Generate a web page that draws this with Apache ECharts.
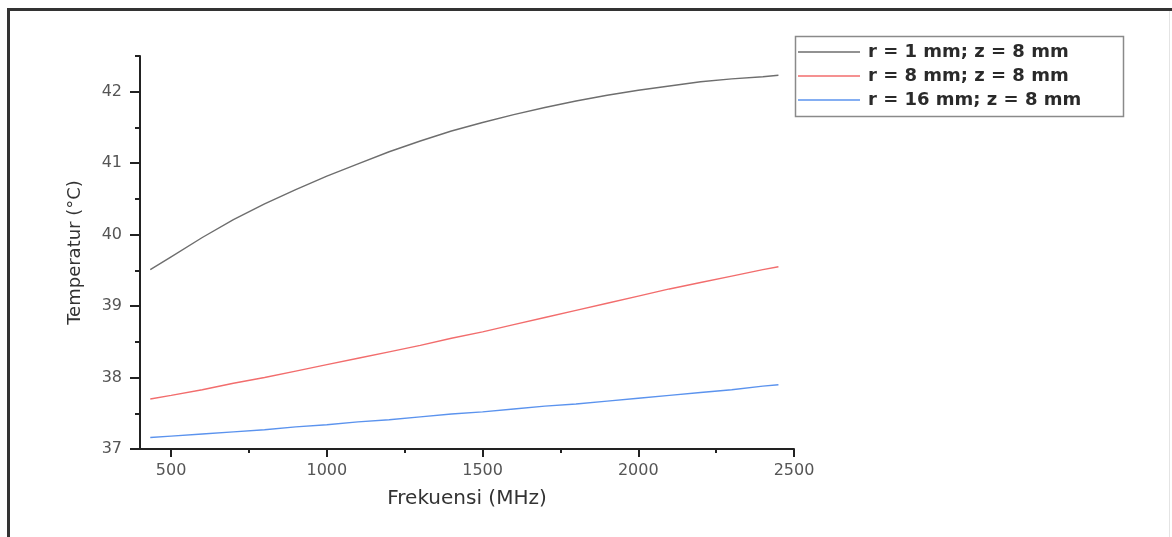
<!DOCTYPE html>
<html>
<head>
<meta charset="utf-8">
<script src="https://cdn.jsdelivr.net/npm/echarts@6/dist/echarts.min.js"></script>
<style>
html,body{margin:0;padding:0;background:#fff;}
#c{width:1172px;height:537px;}
</style>
</head>
<body>
<div id="c"></div>
<script>
var freq = [433, 500, 600, 700, 800, 900, 1000, 1100, 1200, 1300, 1400, 1500, 1600, 1700, 1800, 1900, 2000, 2100, 2200, 2300, 2400, 2450];
var r1 = [39.51, 39.69, 39.96, 40.21, 40.43, 40.63, 40.82, 40.99, 41.16, 41.31, 41.45, 41.57, 41.68, 41.78, 41.87, 41.95, 42.02, 42.08, 42.14, 42.18, 42.21, 42.23];
var r8 = [37.70, 37.75, 37.83, 37.92, 38.00, 38.09, 38.18, 38.27, 38.36, 38.45, 38.55, 38.64, 38.74, 38.84, 38.94, 39.04, 39.14, 39.24, 39.33, 39.42, 39.51, 39.55];
var r16 = [37.16, 37.18, 37.21, 37.24, 37.27, 37.31, 37.34, 37.38, 37.41, 37.45, 37.49, 37.52, 37.56, 37.60, 37.63, 37.67, 37.71, 37.75, 37.79, 37.83, 37.88, 37.90];
var seriesNames = ['r = 1 mm; z = 8 mm', 'r = 8 mm; z = 8 mm', 'r = 16 mm; z = 8 mm'];
var xTicks = [500, 1000, 1500, 2000, 2500];
var xMinorTicks = [750, 1250, 1750, 2250];
var yTicks = [37, 38, 39, 40, 41, 42];
var yMinorTicks = [37.5, 38.5, 39.5, 40.5, 41.5, 42.5];

function pairs(ys){ return freq.map(function(f,i){ return [f, ys[i]]; }); }
function plain(v){ return String(v); }

var FONT = 'DejaVu Sans';
var chart = echarts.init(document.getElementById('c'), null, {renderer:'canvas'});
chart.setOption({
  backgroundColor: '#ffffff',
  animation: false,
  grid: {left: 140, right: 378, top: 56, bottom: 88, containLabel: false},
  xAxis: [{
    type: 'value', min: 400, max: 2500,
    name: 'Frekuensi (MHz)', nameLocation: 'middle', nameGap: 40,
    nameTextStyle: {fontFamily: FONT, fontSize: 20, color: '#333'},
    axisLine: {show: true, lineStyle: {color: '#222', width: 2}},
    axisTick: {show: true, inside: false, length: 8, customValues: xTicks, lineStyle: {color: '#222', width: 2}},
    axisLabel: {customValues: xTicks, formatter: plain, margin: 14, fontFamily: FONT, fontSize: 16, color: '#555'},
    splitLine: {show: false}
  }, {
    type: 'value', min: 400, max: 2500, position: 'bottom',
    axisLine: {show: false},
    axisTick: {show: true, length: 4, customValues: xMinorTicks, lineStyle: {color: '#222', width: 2}},
    axisLabel: {show: false},
    splitLine: {show: false}
  }],
  yAxis: [{
    type: 'value', min: 37, max: 42.5,
    name: 'Temperatur (°C)', nameLocation: 'middle', nameGap: 56, nameRotate: 90,
    nameTextStyle: {fontFamily: FONT, fontSize: 18, color: '#333'},
    axisLine: {show: true, lineStyle: {color: '#222', width: 2}},
    axisTick: {show: true, length: 10, customValues: yTicks, lineStyle: {color: '#222', width: 2}},
    axisLabel: {customValues: yTicks, formatter: plain, margin: 18, fontFamily: FONT, fontSize: 16, color: '#555'},
    splitLine: {show: false}
  }, {
    type: 'value', min: 37, max: 42.5, position: 'left',
    axisLine: {show: false},
    axisTick: {show: true, length: 5, customValues: yMinorTicks, lineStyle: {color: '#222', width: 2}},
    axisLabel: {show: false},
    splitLine: {show: false}
  }],
  legend: {
    show: true, orient: 'vertical', left: 798, top: 40, padding: 0, itemGap: 0,
    icon: 'rect', itemWidth: 62, itemHeight: 1.5,
    data: seriesNames,
    textStyle: {fontFamily: FONT, fontSize: 18, fontWeight: 'bold', color: '#2a2a2a', lineHeight: 24, padding: [0,0,0,3]}
  },
  series: [
    {name: seriesNames[0], type: 'line', data: pairs(r1), smooth: false, symbol: 'none', lineStyle: {color: '#6e6e6e', width: 1.4}, itemStyle: {color: '#6e6e6e'}},
    {name: seriesNames[1], type: 'line', data: pairs(r8), smooth: false, symbol: 'none', lineStyle: {color: '#f26d6d', width: 1.4}, itemStyle: {color: '#f26d6d'}},
    {name: seriesNames[2], type: 'line', data: pairs(r16), smooth: false, symbol: 'none', lineStyle: {color: '#5b93ee', width: 1.4}, itemStyle: {color: '#5b93ee'}}
  ],
  graphic: [
    {type: 'rect', shape: {x: 7, y: 8, width: 1165, height: 3}, style: {fill: '#333'}, silent: true},
    {type: 'rect', shape: {x: 7, y: 8, width: 3, height: 529}, style: {fill: '#333'}, silent: true},
    {type: 'rect', shape: {x: 1169, y: 11, width: 1, height: 526}, style: {fill: '#e4e4e4'}, silent: true},
    {type: 'rect', shape: {x: 795.5, y: 36.5, width: 328, height: 80}, style: {fill: 'none', stroke: '#8a8a8a', lineWidth: 1.5}, silent: true}
  ]
});
</script>
</body>
</html>
